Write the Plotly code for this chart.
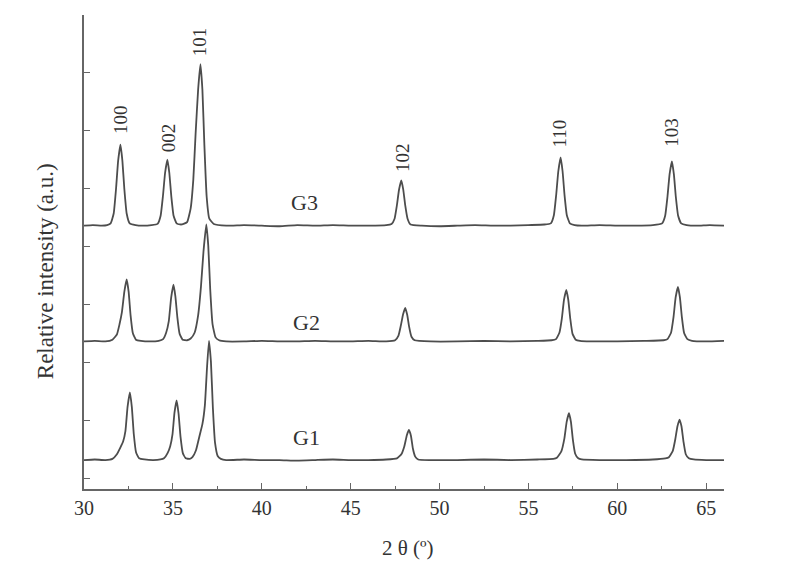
import plotly.graph_objects as go

# ---------------------------------------------------------------------------
# Data (2θ in degrees, net intensity above baseline)
# ---------------------------------------------------------------------------

SAMPLES = ["G1", "G2", "G3"]
BASELINES = [0.31, 2.36, 4.36]          # vertical stacking of each pattern

G1_POINTS = [
    (30.0, 0.0), (30.6, 0.01), (31.2, 0.0), (31.6, 0.02), (31.85, 0.1),
    (32.05, 0.22), (32.2, 0.32), (32.33, 0.5), (32.45, 0.92), (32.58, 1.17),
    (32.69, 0.92), (32.8, 0.45), (32.93, 0.13), (33.1, 0.03), (33.4, 0.01),
    (33.9, 0.0), (34.3, 0.01),
    (34.5, 0.03), (34.7, 0.12), (34.85, 0.24), (34.98, 0.45), (35.09, 0.82),
    (35.21, 1.03), (35.32, 0.8), (35.43, 0.4), (35.56, 0.12), (35.72, 0.03),
    (35.95, 0.02),
    (36.1, 0.05), (36.3, 0.17), (36.5, 0.42), (36.66, 0.62), (36.8, 0.95),
    (36.92, 1.6), (37.03, 2.06), (37.14, 1.7), (37.25, 0.9), (37.37, 0.3),
    (37.52, 0.07), (37.7, 0.02),
    (38.0, 0.0), (39.0, 0.01), (40.0, 0.0), (41.0, 0.0), (42.0, -0.01),
    (43.0, 0.0), (44.0, 0.01), (45.0, 0.0), (46.0, 0.0), (47.0, 0.01),
    (47.6, 0.03), (47.85, 0.1), (48.02, 0.24), (48.16, 0.43), (48.28, 0.52),
    (48.39, 0.42), (48.5, 0.2), (48.63, 0.06), (48.8, 0.01),
    (49.5, 0.0), (51.0, 0.0), (52.5, 0.01), (54.0, 0.0), (55.5, 0.01),
    (56.4, 0.02),
    (56.6, 0.04), (56.85, 0.15), (57.02, 0.37), (57.15, 0.66), (57.28, 0.81),
    (57.39, 0.66), (57.5, 0.35), (57.63, 0.11), (57.8, 0.03), (58.0, 0.01),
    (59.0, 0.0), (60.5, 0.0), (62.0, 0.01), (62.7, 0.03),
    (62.9, 0.05), (63.12, 0.16), (63.26, 0.36), (63.38, 0.58), (63.5, 0.70),
    (63.61, 0.58), (63.72, 0.32), (63.85, 0.1), (64.02, 0.03), (64.3, 0.01),
    (65.0, 0.0), (66.0, 0.0),
]

G2_POINTS = [
    (30.0, 0.0), (30.6, 0.01), (31.2, 0.0), (31.6, 0.03), (31.85, 0.12),
    (32.0, 0.3), (32.13, 0.5), (32.27, 0.86), (32.40, 1.07), (32.51, 0.86),
    (32.62, 0.45), (32.75, 0.14), (32.92, 0.03), (33.2, 0.01),
    (33.7, 0.0), (34.2, 0.01),
    (34.45, 0.04), (34.62, 0.15), (34.77, 0.35), (34.9, 0.75), (35.03, 0.98),
    (35.14, 0.78), (35.25, 0.42), (35.38, 0.13), (35.55, 0.03), (35.8, 0.02),
    (36.0, 0.05), (36.22, 0.15), (36.42, 0.45), (36.58, 0.95), (36.72, 1.55),
    (36.88, 2.02), (36.99, 1.65), (37.1, 0.9), (37.23, 0.3), (37.4, 0.07),
    (37.6, 0.02),
    (38.0, 0.0), (39.0, 0.0), (40.0, 0.01), (41.0, 0.0), (42.0, 0.0),
    (43.0, 0.01), (44.0, 0.0), (45.0, 0.0), (46.0, 0.01), (47.0, 0.0),
    (47.5, 0.02), (47.69, 0.1), (47.82, 0.27), (47.95, 0.47), (48.07, 0.58),
    (48.18, 0.46), (48.29, 0.25), (48.42, 0.08), (48.6, 0.02),
    (49.5, 0.0), (51.0, 0.0), (52.5, 0.01), (54.0, 0.0), (55.5, 0.01),
    (56.3, 0.02),
    (56.55, 0.04), (56.74, 0.15), (56.88, 0.4), (57.0, 0.72), (57.13, 0.89),
    (57.24, 0.72), (57.35, 0.4), (57.48, 0.13), (57.66, 0.03), (57.9, 0.01),
    (58.5, 0.0), (60.0, 0.0), (61.5, 0.01), (62.6, 0.02),
    (62.82, 0.04), (63.02, 0.15), (63.16, 0.42), (63.28, 0.76), (63.41, 0.94),
    (63.52, 0.76), (63.63, 0.42), (63.76, 0.14), (63.94, 0.04), (64.2, 0.01),
    (65.0, 0.0), (66.0, 0.01),
]

G3_POINTS = [
    (30.0, 0.0), (30.5, 0.01), (31.0, 0.0), (31.3, 0.01),
    (31.5, 0.04), (31.67, 0.21), (31.8, 0.63), (31.92, 1.12), (32.05, 1.40),
    (32.16, 1.12), (32.27, 0.63), (32.4, 0.21), (32.57, 0.04), (32.9, 0.01),
    (33.3, 0.0), (33.8, 0.01),
    (34.14, 0.03), (34.31, 0.17), (34.44, 0.51), (34.56, 0.91), (34.69, 1.14),
    (34.8, 0.91), (34.91, 0.51), (35.04, 0.17), (35.21, 0.04), (35.45, 0.02),
    (35.6, 0.03),
    (35.8, 0.06), (36.0, 0.3), (36.15, 0.8), (36.28, 1.6), (36.42, 2.35),
    (36.55, 2.79), (36.66, 2.35), (36.77, 1.4), (36.9, 0.5), (37.05, 0.12),
    (37.3, 0.03),
    (38.0, 0.0), (39.0, 0.01), (40.0, 0.0), (41.0, -0.01), (42.0, 0.01),
    (43.0, 0.0), (44.0, 0.01), (45.0, 0.0), (46.0, 0.0), (47.0, 0.01),
    (47.3, 0.03), (47.47, 0.12), (47.6, 0.35), (47.72, 0.62), (47.85, 0.78),
    (47.96, 0.62), (48.07, 0.35), (48.2, 0.12), (48.37, 0.02),
    (49.0, 0.0), (50.0, -0.01), (51.0, 0.0), (52.0, 0.01), (53.0, 0.0),
    (54.0, 0.0), (55.0, 0.01), (55.9, 0.02),
    (56.26, 0.04), (56.43, 0.18), (56.56, 0.53), (56.68, 0.94), (56.81, 1.18),
    (56.92, 0.94), (57.03, 0.53), (57.16, 0.18), (57.33, 0.04), (57.6, 0.01),
    (58.0, 0.0), (59.0, 0.01), (60.0, 0.0), (61.0, 0.0), (62.0, 0.01),
    (62.52, 0.04), (62.69, 0.17), (62.82, 0.5), (62.94, 0.89), (63.07, 1.11),
    (63.18, 0.89), (63.29, 0.5), (63.42, 0.17), (63.59, 0.04), (63.9, 0.01),
    (64.5, 0.0), (65.2, 0.01), (66.0, 0.0),
]

# (hkl) reflections labelled above the G3 pattern: 2θ and label height
HKL_LABELS = ["100", "002", "101", "102", "110", "103"]
HKL_TWO_THETA = [32.09, 34.76, 36.47, 47.95, 56.77, 63.04]
HKL_LABEL_Y = [6.19, 5.88, 7.53, 5.53, 5.95, 5.97]

# where the sample names sit
SAMPLE_LABEL_X = [42.5, 42.5, 42.4]
SAMPLE_LABEL_Y = [0.70, 2.68, 4.76]

LINE_COLOR = "#4d4d4d"
TEXT_COLOR = "#333333"
AXIS_COLOR = "#666666"
FONT = "Liberation Serif"

# ---------------------------------------------------------------------------
# Figure
# ---------------------------------------------------------------------------

fig = go.Figure()

for name, points, base in zip(SAMPLES, [G1_POINTS, G2_POINTS, G3_POINTS], BASELINES):
    xs = [p[0] for p in points]
    ys = [p[1] + base for p in points]
    fig.add_trace(
        go.Scatter(
            x=xs, y=ys, mode="lines", name=name,
            line=dict(color=LINE_COLOR, width=1.8, shape="spline", smoothing=0.4),
            showlegend=False,
        )
    )

for label, tt, yy in zip(HKL_LABELS, HKL_TWO_THETA, HKL_LABEL_Y):
    fig.add_annotation(
        x=tt, y=yy, text=label, showarrow=False, textangle=-90,
        font=dict(family=FONT, size=19, color=TEXT_COLOR),
    )

for name, xx, yy in zip(SAMPLES, SAMPLE_LABEL_X, SAMPLE_LABEL_Y):
    fig.add_annotation(
        x=xx, y=yy, text=name, showarrow=False,
        font=dict(family=FONT, size=22, color=TEXT_COLOR),
    )

# axis titles placed by hand
fig.add_annotation(
    xref="paper", yref="paper", x=-0.059, y=0.46, text="Relative intensity (a.u.)",
    showarrow=False, textangle=-90, xanchor="center", yanchor="middle",
    font=dict(family=FONT, size=23, color=TEXT_COLOR),
)
fig.add_annotation(
    xref="paper", yref="paper", x=0.506, y=-0.124, text="2 θ (º)",
    showarrow=False, xanchor="center", yanchor="middle",
    font=dict(family=FONT, size=21, color=TEXT_COLOR),
)

# the page body adds an 8 px offset, so the margins are shifted by that much
fig.update_layout(
    width=800, height=571,
    paper_bgcolor="white", plot_bgcolor="white",
    margin=dict(l=76, r=84, t=7, b=90),
    font=dict(family=FONT, color=TEXT_COLOR),
    xaxis=dict(
        range=[30, 66], tick0=30, dtick=5,
        ticks="inside", ticklen=6, tickwidth=1.2, tickcolor=AXIS_COLOR,
        minor=dict(dtick=2.5, ticks="inside", ticklen=3, tickcolor=AXIS_COLOR),
        showline=True, linecolor=AXIS_COLOR, linewidth=1.5,
        showgrid=False, zeroline=False,
        tickfont=dict(family=FONT, size=20, color=TEXT_COLOR),
    ),
    yaxis=dict(
        range=[-0.19, 8.0], tick0=0, dtick=1,
        ticks="inside", ticklen=6, tickwidth=1.2, tickcolor=AXIS_COLOR,
        showticklabels=False,
        showline=True, linecolor=AXIS_COLOR, linewidth=1.5,
        showgrid=False, zeroline=False,
    ),
)

fig.write_html("out.html")
